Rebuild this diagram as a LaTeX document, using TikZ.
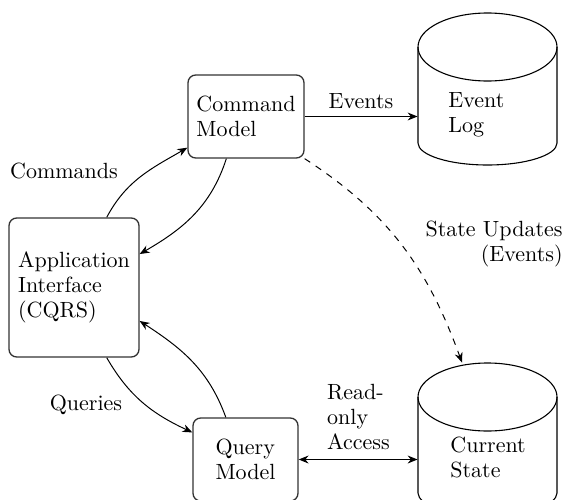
\documentclass[tikz,border=0pt]{standalone}
\usetikzlibrary{arrows.meta}
\newcommand\pxu{0.4545pt}
\begin{document}
\begin{tikzpicture}[x=\pxu,y=\pxu,
  font=\fontsize{10}{11.4}\selectfont,
  box/.style={draw=black!80, line width=0.6pt, rounded corners=3.5pt, align=left, inner sep=0pt},
  cyl/.style={draw=none, inner sep=0pt},
  lbl/.style={inner sep=0pt, align=left},
  conn/.style={-{Stealth[length=4.5pt,width=3.6pt]}, line width=0.45pt},
  cylline/.style={line width=0.5pt},
]
\useasboundingbox (0,0) rectangle (565,499);
\clip (0,0) rectangle (565,499);
% boxes
\node[box, minimum width=116*\pxu, minimum height=83*\pxu] (cm) at (246,382.5) {Command\\Model};
\node[box, minimum width=130*\pxu, minimum height=139*\pxu] (app) at (74,211.5) {Application\\Interface\\(CQRS)};
\node[box, minimum width=105*\pxu, minimum height=83*\pxu] (qm) at (245.5,39.5) {Query\\Model};
% cylinders
\draw[cylline] (418,452) -- (418,356) arc[start angle=180, end angle=360, x radius=69.5, y radius=22] -- (557,452);
\draw[cylline] (487.5,452) ellipse [x radius=69.5, y radius=34];
\draw[cylline] (418,102) -- (418,6) arc[start angle=180, end angle=360, x radius=69.5, y radius=22] -- (557,102);
\draw[cylline] (487.5,102) ellipse [x radius=69.5, y radius=34];
\node[cyl, minimum width=139*\pxu, minimum height=152*\pxu] (ev) at (487.5,410) {};
\node[cyl, minimum width=139*\pxu, minimum height=152*\pxu] (cs) at (487.5,60) {};
\node[lbl, anchor=west] (evt) at (448,384) {Event\\Log};
\node[lbl, anchor=west] (cst) at (450,41.5) {Current\\State};
% connectors
\draw[conn] (cm.east) -- (cm.east -| ev.west);
\draw[conn] (app.65) to[out=62, in=210] (cm.208);
\draw[conn] (cm.245) to[out=-108, in=30] (app.27);
\draw[conn] (app.-65) to[out=-60, in=155] (qm.153);
\draw[conn] (qm.115) to[out=110, in=-33] (app.-27);
\draw[conn, dashed] (cm.south east) to[out=-33, in=110] ([xshift=-25.5*\pxu]cs.north);
\draw[conn, {Stealth[length=4.5pt,width=3.6pt]}-{Stealth[length=4.5pt,width=3.6pt]}] (qm.east) -- (qm.east -| cs.west);
% labels
\node[anchor=base, inner sep=0pt] (le) at (361,391) {Events};
\node[anchor=base, inner sep=0pt] (lc) at (64,321) {Commands};
\node[anchor=base, inner sep=0pt] (lq) at (86,89) {Queries};
\node[lbl, align=right, anchor=east] (ls) at (563,255.4) {State Updates\\(Events)};
\node[lbl, anchor=center] (lr) at (358.5,82) {Read-\\only\\Access};
\end{tikzpicture}
\end{document}
